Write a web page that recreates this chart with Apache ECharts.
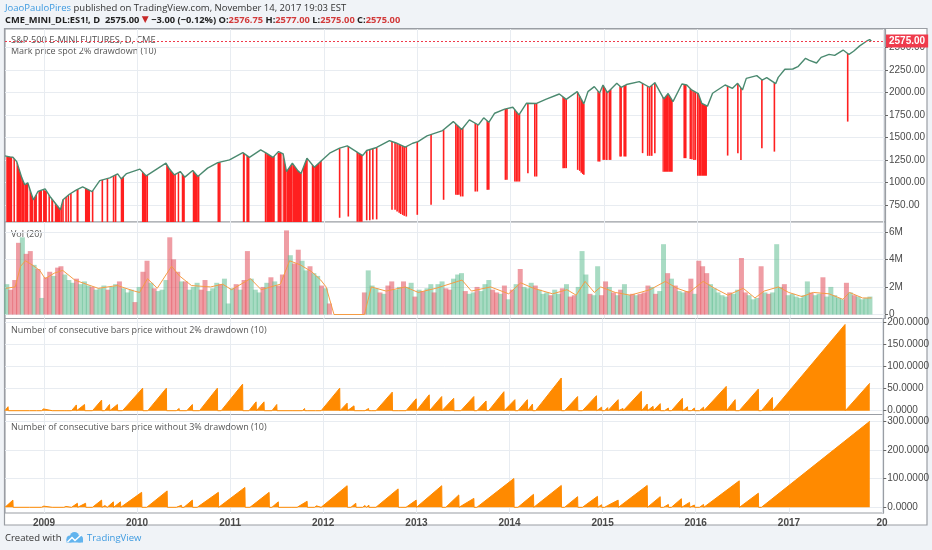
<!DOCTYPE html>
<html>
<head>
<meta charset="utf-8">
<script src="https://cdn.jsdelivr.net/npm/echarts@6/dist/echarts.min.js"></script>
<style>
html, body { margin: 0; padding: 0; background: #f0f3f7; }
#chart { width: 932px; height: 550px; }
</style>
</head>
<body>
<div id="chart"></div>
<script>
// ---- price pane: close line ----
var priceDates = ['2008-08-01','2008-08-20','2008-09-01','2008-09-16','2008-10-06','2008-10-17','2008-10-29','2008-11-20','2008-12-08',
    '2009-01-05','2009-01-24','2009-03-06','2009-03-16','2009-04-10','2009-05-08','2009-06-01','2009-07-08','2009-08-07','2009-09-15','2009-10-16','2009-10-30','2009-11-20',
    '2010-01-11','2010-02-05','2010-04-23','2010-05-07','2010-05-26','2010-06-18','2010-07-06','2010-08-06','2010-08-26','2010-10-03','2010-11-12','2010-12-28',
    '2011-02-18','2011-03-16','2011-04-29','2011-05-21','2011-06-16','2011-07-08','2011-07-26','2011-08-08','2011-08-31','2011-09-22','2011-10-04','2011-10-27','2011-11-25','2011-12-15',
    '2012-01-24','2012-03-03','2012-04-02','2012-05-15','2012-06-01','2012-06-17','2012-07-26','2012-09-14','2012-10-10','2012-11-15','2012-12-14',
    '2013-01-04','2013-02-08','2013-04-10','2013-05-22','2013-06-24','2013-07-24','2013-08-28','2013-09-18','2013-10-08','2013-10-31','2013-12-09',
    '2014-01-10','2014-02-03','2014-03-04','2014-04-13','2014-05-21','2014-07-11','2014-08-07','2014-09-19','2014-10-15','2014-10-31','2014-11-25','2014-12-16','2014-12-29',
    '2015-01-15','2015-02-21','2015-03-10','2015-03-31','2015-05-20','2015-06-29','2015-07-20','2015-08-24','2015-09-10','2015-09-29','2015-11-03','2015-11-22','2015-12-11',
    '2016-01-06','2016-01-20','2016-02-11','2016-03-02','2016-04-20','2016-05-19','2016-06-08','2016-06-27','2016-07-12','2016-08-22','2016-09-12','2016-09-30','2016-11-04','2016-11-14','2016-12-10',
    '2017-01-10','2017-01-30','2017-03-01','2017-03-16','2017-04-13','2017-05-01','2017-06-01','2017-06-23','2017-07-26','2017-08-18','2017-09-05','2017-09-29','2017-10-27','2017-11-07','2017-11-14'];
var priceValues = [1297,1285,1282,1233,1052,975,997,808,900,
    930,845,697,808,870,919,952,900,1022,1052,1097,1040,1100,
    1149,1074,1216,1150,1085,1122,1060,1133,1067,1160,1222,1252,
    1333,1280,1363,1327,1280,1344,1320,1122,1215,1130,1100,1271,1170,1222,
    1327,1382,1408,1330,1300,1356,1390,1467,1440,1393,1437,
    1456,1519,1578,1678,1590,1697,1640,1720,1670,1771,1816,
    1838,1752,1882,1880,1927,1985,1925,2011,1875,2011,2067,1995,2085,
    2000,2104,2060,2090,2122,2060,2111,1930,1990,1900,2096,2085,2030,
    1990,1880,1850,1993,2085,2048,2104,2030,2159,2189,2140,2167,2100,2170,2260,
    2263,2289,2382,2360,2330,2393,2426,2415,2474,2425,2460,2520,2575,2590,2575];
var priceTicks = [750, 1000, 1250, 1500, 1750, 2000, 2250, 2500];
var lastBar = { open: 2576.75, high: 2577.00, low: 2575.00, close: 2575.00, change: -3.00, pct: -0.12 };

// 2% drawdown marks, runs of bars: [from, to, top at from, top at to, low]
var drawdownRuns = [
    ['2008-08-06','2008-08-29',1292,1283,540], ['2008-09-03','2008-09-09',1275,1255,540],
    ['2008-09-15','2008-10-06',1236,1050,540], ['2008-10-06','2008-10-17',1050,975,540], ['2008-10-17','2008-10-31',975,990,540],
    ['2008-11-05','2008-11-20',937,808,540], ['2008-11-22','2008-12-04',816,880,540], ['2008-12-10','2008-12-24',900,915,540],
    ['2008-12-28','2009-01-12',922,899,540], ['2009-01-18','2009-01-24',865,845,540], ['2009-01-29','2009-02-06',826,796,540],
    ['2009-02-12','2009-03-06',775,697,540], ['2009-03-06','2009-03-12',697,764,540],
    ['2009-05-08','2009-05-16',919,925,540], ['2009-06-10','2009-06-30',939,911,540], ['2009-10-28','2009-11-10',1048,1071,540],
    ['2010-01-19','2010-02-05',1125,1074,540], ['2010-02-05','2010-02-12',1074,1087,540],
    ['2010-04-24','2010-05-07',1214,1150,540], ['2010-05-07','2010-05-26',1150,1085,540], ['2010-05-26','2010-06-01',1085,1094,540],
    ['2010-06-08','2010-06-14',1103,1115,540], ['2010-06-24','2010-07-06',1101,1060,540],
    ['2010-08-06','2010-08-26',1133,1067,540], ['2010-08-26','2010-09-01',1067,1082,540],
    ['2011-02-18','2011-02-26',1333,1317,540], ['2011-03-04','2011-03-16',1304,1280,540],
    ['2011-05-15','2011-05-21',1337,1327,540], ['2011-05-21','2011-06-16',1327,1280,540], ['2011-06-16','2011-06-23',1280,1300,540],
    ['2011-07-04','2011-07-20',1332,1328,540], ['2011-07-24','2011-07-26',1323,1320,540], ['2011-07-26','2011-08-08',1320,1122,540],
    ['2011-08-08','2011-08-31',1122,1215,540], ['2011-08-31','2011-09-22',1215,1130,540], ['2011-09-22','2011-10-04',1130,1100,540],
    ['2011-10-04','2011-10-07',1100,1122,540], ['2011-10-11','2011-10-27',1152,1271,540], ['2011-10-27','2011-10-30',1271,1261,540],
    ['2011-11-15','2011-11-25',1205,1170,540], ['2011-11-25','2011-12-15',1170,1222,540], ['2011-12-15','2011-12-24',1222,1246,540],
    ['2012-05-08','2012-05-15',1343,1330,565], ['2012-05-15','2012-06-01',1330,1300,565],
    ['2015-08-19','2015-08-24',1956,1930,1120], ['2015-08-24','2015-09-10',1930,1990,1120], ['2015-09-10','2015-09-28',1990,1905,1120],
    ['2016-01-01','2016-01-06',1998,1990,1075], ['2016-01-06','2016-01-20',1990,1880,1075], ['2016-01-20','2016-02-09',1880,1853,1075]
];
// 2% drawdown marks, single bars: [date, top, low]
var drawdownBars = [
    ['2009-03-16',808,540], ['2009-03-28',838,540], ['2009-04-06',860,540], ['2009-04-16',880,540], ['2009-07-10',908,540],
    ['2009-08-17',1030,540], ['2009-09-06',1045,540], ['2009-09-30',1074,540], ['2009-10-08',1085,540],
    ['2010-11-14',1223,540], ['2010-11-20',1227,540],
    ['2012-03-03',1382,608], ['2012-04-06',1400,622], ['2012-06-17',1356,580], ['2012-06-29',1366,580], ['2012-07-11',1377,590], ['2012-07-26',1390,590],
    ['2012-09-24',1457,697], ['2012-10-06',1444,697], ['2012-10-14',1435,678], ['2012-10-22',1424,665], ['2012-10-28',1417,650],
    ['2012-11-05',1406,640], ['2012-11-11',1398,630], ['2012-11-19',1399,622],
    ['2013-01-01',1453,641], ['2013-02-24',1534,752], ['2013-04-14',1588,808], ['2013-06-01',1651,863], ['2013-06-07',1635,863],
    ['2013-06-13',1619,863], ['2013-06-20',1601,845], ['2013-06-28',1604,845], ['2013-08-16',1660,900], ['2013-08-24',1647,900],
    ['2013-10-02',1685,919], ['2013-10-08',1670,919], ['2013-12-12',1818,1030], ['2013-12-18',1822,1030],
    ['2014-01-18',1809,1011], ['2014-01-24',1788,1011], ['2014-01-30',1766,1011], ['2014-02-05',1761,1011], ['2014-03-10',1882,1104],
    ['2014-04-06',1880,1067], ['2014-04-13',1880,1067], ['2014-07-26',1952,1160], ['2014-08-01',1938,1160], ['2014-08-07',1925,1160],
    ['2014-09-21',2001,1141], ['2014-09-29',1959,1130], ['2014-10-05',1927,1110], ['2014-10-11',1896,1095], ['2014-10-15',1875,1086],
    ['2014-12-10',2016,1233], ['2014-12-16',1995,1233], ['2014-12-30',2080,1252],
    ['2015-01-05',2050,1252], ['2015-01-13',2010,1252], ['2015-01-23',2022,1252], ['2015-01-28',2037,1252],
    ['2015-03-06',2070,1289], ['2015-03-10',2060,1289], ['2015-03-22',2077,1289], ['2015-03-28',2086,1289],
    ['2015-06-02',2102,1327], ['2015-06-22',2071,1297], ['2015-06-30',2062,1297], ['2015-07-08',2082,1297], ['2015-07-20',2111,1327],
    ['2015-11-12',2091,1271], ['2015-11-18',2087,1271], ['2015-12-06',2044,1262], ['2015-12-12',2028,1260], ['2015-12-20',2016,1252], ['2015-12-26',2007,1252],
    ['2016-04-30',2072,1300], ['2016-06-09',2100,1327], ['2016-06-21',2053,1252], ['2016-09-11',2142,1382], ['2016-10-30',2111,1344],
    ['2017-08-13',2437,1678]
];

// ---- volume pane: two bars per month from Aug 2008 (in millions), g = up bar, r = down bar ----
var volValues = [
    2.2,1.8, 2.5,5.2, 5.6,4.4, 4.6,3.6, 3.3,1.2,
    2.7,3.1, 2.8,3.4, 3.5,2.9, 2.5,2.3, 2.6,2.2, 2.4,2.1, 2.0,1.8, 1.9,2.1, 1.8,2.0, 2.2,2.4, 1.9,1.6, 1.8,0.9,
    2.0,3.1, 3.9,2.3, 1.9,1.7, 1.8,2.5, 5.6,4.0, 3.1,2.4, 2.4,1.8, 2.0,2.3, 1.8,2.5, 1.7,1.9, 2.3,2.2, 2.6,0.8,
    1.9,2.2, 1.8,2.5, 4.6,2.6, 1.8,1.6, 2.0,2.3, 2.7,2.4, 2.1,2.9, 6.1,4.3, 3.7,4.7, 3.9,3.2, 3.5,3.0, 2.8,2.1,
    1.9,0.8, 0,0, 0,0, 0,0, 0,0, 1.6,3.2, 2.1,1.9, 1.6,1.5, 2.1,2.4, 1.8,2.0, 2.4,2.0, 2.3,1.3,
    1.8,1.7, 1.9,2.2, 1.6,2.2, 2.4,1.9, 1.8,2.6, 2.9,3.0, 1.7,1.5, 1.6,2.0, 1.7,2.2, 2.5,1.8, 1.6,1.5, 2.1,1.1,
    1.8,2.2, 3.3,2.0, 1.9,2.3, 2.1,1.8, 1.5,1.6, 1.4,1.8, 1.5,1.9, 2.2,1.3, 1.4,2.0, 4.6,2.9, 1.5,1.4, 3.5,1.4,
    2.4,2.0, 1.6,1.4, 1.8,2.2, 1.4,1.5, 1.4,1.5, 1.6,2.1, 2.0,1.5, 1.7,5.1, 3.0,2.6, 2.1,1.7, 1.6,1.7, 2.6,1.5,
    3.9,3.5, 3.0,2.2, 1.9,1.6, 1.4,1.3, 1.6,1.5, 1.8,4.1, 1.6,1.4, 1.1,1.2, 3.5,1.6, 1.5,1.6, 5.1,2.0, 2.2,1.4,
    1.5,1.3, 1.2,1.4, 2.4,1.6, 1.4,1.5, 2.7,1.3, 2.0,1.4, 1.2,1.1, 2.3,1.6, 1.4,1.3, 1.1,1.2, 1.3
];
var volSide = 'grrrgrrgrg' +
    'rrgrrgggrgggrgggrggrgggr' + 'grrgrgggrrrgrgggrrgggrgg' + 'grgrrgggrgrgrrrgrrggrggr' +
    'grggggggggrgggrgrrggrggr' + 'grggrggrrgggrggrgggrrgrg' + 'rgrgggrgggrggrgrrgggrggr' +
    'rgrgrggrgrrrgrggrgrggrrg' + 'rrrgggggrggrrgggrgrgggrg' + 'gggggrggrgggggrgrgggg';
var volMaDates = ['2008-08-05','2008-09-10','2008-10-01','2008-10-20','2008-11-15','2008-12-15','2009-01-05','2009-02-10','2009-03-15','2009-05-01','2009-06-15',
    '2009-08-01','2009-10-15','2009-12-20','2010-01-10','2010-02-10','2010-03-20','2010-05-15','2010-06-15','2010-08-01','2010-10-15','2010-12-01',
    '2011-01-05','2011-03-20','2011-05-01','2011-07-15','2011-08-20','2011-10-01','2011-11-15','2011-12-20','2012-01-10','2012-02-10','2012-06-08',
    '2012-07-05','2012-09-01','2012-11-15','2013-01-05','2013-03-15','2013-06-25','2013-08-01','2013-10-15','2013-12-25','2014-02-10','2014-04-01',
    '2014-06-15','2014-08-10','2014-09-15','2014-10-20','2014-11-25','2014-12-20','2015-02-15','2015-04-15','2015-07-01','2015-08-30','2015-10-15',
    '2015-12-01','2016-01-25','2016-03-10','2016-05-01','2016-06-30','2016-08-15','2016-09-20','2016-11-15','2016-12-25','2017-02-15','2017-04-01',
    '2017-06-01','2017-07-25','2017-08-20','2017-10-10','2017-11-14'];
var volMaValues = [1.9,2.0,3.5,3.9,3.6,3.2,2.6,3.0,3.2,2.5,2.2,
    1.9,2.1,1.7,1.6,2.6,1.9,3.5,2.8,2.1,2.0,2.2,
    1.8,2.6,1.8,2.2,3.9,3.6,3.1,2.5,2.0,0,0,
    2.0,1.7,2.0,1.6,1.9,2.5,1.7,2.0,1.5,2.3,1.9,
    1.5,1.8,1.4,2.4,1.6,2.0,1.6,1.4,1.8,2.4,1.9,
    1.6,2.4,1.9,1.4,1.9,1.2,1.7,2.0,1.6,1.3,1.6,
    1.5,1.1,1.6,1.2,1.2];
var volTicks = [0, 2, 4, 6];

// ---- consecutive bars without drawdown: [run start, run end, count at end] ----
var runs2 = [
    ['2008-08-01','2008-08-13',9], ['2008-11-06','2008-11-12',3], ['2008-12-02','2008-12-08',4], ['2008-12-22','2008-12-30',4],
    ['2009-02-02','2009-02-06',3], ['2009-03-24','2009-03-31',4], ['2009-04-19','2009-05-08',13], ['2009-05-12','2009-06-09',14],
    ['2009-07-10','2009-08-15',24], ['2009-08-27','2009-09-15',14], ['2009-09-23','2009-10-16',14], ['2009-11-05','2010-01-23',51],
    ['2010-02-12','2010-04-26',51], ['2010-06-04','2010-06-15',5], ['2010-07-15','2010-08-06',14], ['2010-09-03','2010-11-12',51],
    ['2010-11-27','2011-02-19',60], ['2011-03-16','2011-04-13',20], ['2011-04-17','2011-05-14',20], ['2011-06-14','2011-07-03',14],
    ['2011-08-24','2011-08-31',4], ['2011-10-12','2011-10-20',5], ['2011-11-02','2011-11-08',3], ['2011-12-01','2011-12-06',3],
    ['2011-12-24','2012-03-06',51], ['2012-03-10','2012-04-04',17], ['2012-04-12','2012-05-01',11], ['2012-06-05','2012-06-12',4],
    ['2012-06-20','2012-06-27',5], ['2012-07-10','2012-07-16',3], ['2012-07-26','2012-09-28',42], ['2012-10-24','2012-10-30',3],
    ['2012-11-21','2012-12-31',27], ['2013-01-04','2013-02-20',36], ['2013-02-28','2013-04-10',32], ['2013-04-18','2013-05-27',28],
    ['2013-06-24','2013-08-14',32], ['2013-08-26','2013-10-01',22], ['2013-10-11','2013-12-10',43], ['2013-12-18','2014-01-22',25],
    ['2014-02-03','2014-03-12',25], ['2014-03-14','2014-04-01',15], ['2014-04-13','2014-07-23',74], ['2014-08-05','2014-09-25',32],
    ['2014-10-14','2014-12-08',34], ['2014-12-12','2014-12-28',8], ['2015-01-09','2015-01-21',7], ['2015-01-26','2015-03-03',25],
    ['2015-03-07','2015-03-22',5], ['2015-03-26','2015-06-02',44], ['2015-06-06','2015-06-25',15], ['2015-07-03','2015-07-18',10],
    ['2015-07-26','2015-08-15',16], ['2015-09-01','2015-09-16',6], ['2015-09-28','2015-11-10',28], ['2015-11-14','2015-11-30',9],
    ['2015-12-15','2015-12-27',6], ['2016-01-16','2016-02-01',8], ['2016-02-09','2016-04-30',55], ['2016-05-04','2016-06-04',25],
    ['2016-06-20','2016-09-03',49], ['2016-09-15','2016-10-28',30], ['2016-11-05','2017-08-09',195], ['2017-08-17','2017-11-14',62]
];
var runs3 = [
    ['2008-08-01','2008-09-01',25], ['2008-11-06','2008-11-12',3], ['2008-12-22','2008-12-31',4], ['2009-02-02','2009-02-08',4],
    ['2009-03-20','2009-03-28',3], ['2009-04-19','2009-05-12',14], ['2009-05-20','2009-06-13',14], ['2009-07-10','2009-08-15',25],
    ['2009-08-20','2009-08-28',6], ['2009-09-06','2009-09-30',19], ['2009-10-04','2009-10-28',19], ['2009-11-05','2010-01-19',52],
    ['2010-02-08','2010-04-29',57], ['2010-06-04','2010-06-24',7], ['2010-07-04','2010-08-06',25], ['2010-08-25','2010-11-16',52],
    ['2010-11-24','2011-02-28',69], ['2011-03-20','2011-06-03',52], ['2011-06-14','2011-07-09',19], ['2011-08-20','2011-08-27',4],
    ['2011-09-21','2011-10-30',21], ['2011-11-28','2011-12-06',5], ['2011-12-24','2012-04-04',75], ['2012-04-19','2012-05-08',14],
    ['2012-06-04','2012-06-12',6], ['2012-06-20','2012-06-28',8], ['2012-07-26','2012-10-21',64], ['2012-11-01','2012-11-07',4],
    ['2012-11-21','2012-12-31',25], ['2013-01-04','2013-04-10',75], ['2013-04-26','2013-06-16',43], ['2013-06-24','2013-08-14',31],
    ['2013-08-26','2014-01-18',100], ['2014-02-03','2014-04-05',45], ['2014-04-13','2014-07-23',76], ['2014-08-05','2014-09-25',37],
    ['2014-10-14','2014-12-12',38], ['2014-12-16','2014-12-28',9], ['2015-01-09','2015-01-21',6], ['2015-01-26','2015-03-03',25],
    ['2015-03-07','2015-06-25',76], ['2015-06-29','2015-08-15',37], ['2015-08-28','2015-09-16',10], ['2015-09-28','2015-11-06',30],
    ['2015-11-10','2015-12-08',17], ['2015-12-15','2015-12-27',8], ['2016-01-16','2016-02-01',10], ['2016-02-09','2016-06-20',92],
    ['2016-06-28','2016-09-03',49], ['2016-09-15','2017-11-14',299]
];
var runs2Ticks = [0, 50, 100, 150, 200];
var runs3Ticks = [0, 100, 200, 300];
var yearTicks = ['2009','2010','2011','2012','2013','2014','2015','2016','2017','2018'];

var RED = '#ff1f1f';
var ORANGE = '#ff8a00';
var GRID_LINE = '#e8ecf1';
var AXIS_GRAY = '#9a9ea4';
var VOL_UP = 'rgba(96, 190, 145, 0.55)';
var VOL_DOWN = 'rgba(228, 92, 104, 0.6)';
var LAST_RED = '#ef3b4c';

function ts(s) {
    var p = s.split('-');
    return new Date(+p[0], +p[1] - 1, +(p[2] || 1)).getTime();
}

// sawtooth points from runs
function runPoints(list) {
    var pts = [];
    list.forEach(function (r, i) {
        pts.push([ts(r[0]), 0]);
        pts.push([ts(r[1]), r[2]]);
        if (i < list.length - 1) pts.push([ts(r[1]) + 86400000, 0]);
    });
    return pts;
}

var volData = volValues.map(function (v, i) {
    var m = 7 + Math.floor(i / 2);
    var d = new Date(2008 + Math.floor(m / 12), m % 12, i % 2 ? 23 : 8).getTime();
    var up = volSide.charAt(i) !== 'r';
    return { value: [d, v], itemStyle: { color: up ? VOL_UP : VOL_DOWN } };
});

var yearValues = yearTicks.map(function (y) { return ts(y + '-01-01'); });
var xMin = ts('2008-08-01'), xMax = ts('2018-01-06');
var lastPrice = priceValues[priceValues.length - 1];

var panes = [
    { top: 29, height: 193, min: 561, max: 2708, ticks: priceTicks, fmt: function (v) { return v.toFixed(2); } },
    { top: 222, height: 96.5, min: -0.29, max: 6.71, ticks: volTicks, fmt: function (v) { return v === 0 ? '0' : v + 'M'; } },
    { top: 318.5, height: 96, min: -8.6, max: 208.6, ticks: runs2Ticks, fmt: function (v) { return v.toFixed(4); } },
    { top: 414.5, height: 98.5, min: -19.8, max: 322.6, ticks: runs3Ticks, fmt: function (v) { return v.toFixed(4); } }
];

var labelFont = { fontFamily: 'Liberation Sans', fontSize: 10, color: '#4a4a4a' };
var titleStyle = { fill: '#555', fontFamily: 'Open Sans', fontSize: 9, verticalAlign: 'middle' };

function paneTitle(text, x, y, size) {
    return { type: 'text', x: x, y: y, silent: true, style: Object.assign({}, titleStyle, { text: text, fontSize: size || 9 }) };
}

var option = {
    animation: false,
    backgroundColor: '#f0f3f7',
    grid: panes.map(function (p) {
        return { left: 5, right: 47, top: p.top, height: p.height, show: true, backgroundColor: '#fff',
            borderColor: AXIS_GRAY, borderWidth: 1.2 };
    }),
    // time runs on a plain value axis (timestamps) so the year lines can be placed exactly
    xAxis: panes.map(function (p, i) {
        return {
            type: 'value', gridIndex: i, min: xMin, max: xMax, scale: true,
            axisLine: { show: false },
            axisTick: { show: false, customValues: yearValues },
            splitLine: { show: true, lineStyle: { color: GRID_LINE, width: 1 } },
            axisLabel: {
                show: i === 3, customValues: yearValues, margin: 5,
                fontFamily: 'Liberation Sans', fontSize: 10, fontWeight: 'bold', color: '#4a4a4a',
                formatter: function (v) {
                    var y = new Date(v).getFullYear();
                    return y === 2018 ? '20' : String(y);
                }
            }
        };
    }),
    yAxis: panes.map(function (p, i) {
        return {
            type: 'value', gridIndex: i, position: 'right', min: p.min, max: p.max,
            axisLine: { show: true, lineStyle: { color: AXIS_GRAY, width: 1.2 } },
            axisTick: { show: true, length: 3, customValues: p.ticks, lineStyle: { color: '#666' } },
            splitLine: { show: true, lineStyle: { color: GRID_LINE, width: 1 } },
            axisLabel: Object.assign({ customValues: p.ticks, margin: 4, formatter: p.fmt }, labelFont)
        };
    }),
    graphic: [
        { type: 'rect', z: -10, silent: true, shape: { x: 4.5, y: 28.5, width: 922.5, height: 496.5 },
          style: { fill: '#fff', stroke: AXIS_GRAY, lineWidth: 1.2 } },
        { type: 'text', x: 5, y: 8, silent: true, style: {
            text: '{u|JoaoPauloPires} published on TradingView.com, November 14, 2017 19:03 EST',
            fill: '#333', fontFamily: 'Open Sans', fontSize: 9.5, verticalAlign: 'middle',
            rich: { u: { fill: '#3d9ae0', fontFamily: 'Open Sans', fontSize: 9.5 } } } },
        { type: 'text', x: 5, y: 20, silent: true, style: {
            text: '{b|CME_MINI_DL:ES1!, D  ' + lastBar.close.toFixed(2) + ' }{t|▼}{b| −' + Math.abs(lastBar.change).toFixed(2) +
                ' (−' + Math.abs(lastBar.pct).toFixed(2) + '%) O:}{v|' + lastBar.open.toFixed(2) + '}{b| H:}{v|' + lastBar.high.toFixed(2) +
                '}{b| L:}{v|' + lastBar.low.toFixed(2) + '}{b| C:}{v|' + lastBar.close.toFixed(2) + '}',
            verticalAlign: 'middle',
            rich: {
                b: { fill: '#222', fontFamily: 'Open Sans', fontSize: 9.3, fontWeight: 'bold' },
                t: { fill: '#c62828', fontFamily: 'DejaVu Sans', fontSize: 9 },
                v: { fill: '#d23a3a', fontFamily: 'Open Sans', fontSize: 9.3, fontWeight: 'bold' }
            } } },
        paneTitle('S&P 500 E-MINI FUTURES, D, CME', 11, 40, 9.3),
        paneTitle('Mark price spot 2% drawdown (10)', 11, 51),
        paneTitle('Vol (20)', 11, 234),
        paneTitle('Number of consecutive bars price without 2% drawdown (10)', 11, 330),
        paneTitle('Number of consecutive bars price without 3% drawdown (10)', 11, 427),
        { type: 'text', x: 5, y: 538, silent: true, style: { text: 'Created with', fill: '#333', fontFamily: 'Open Sans', fontSize: 9.5, verticalAlign: 'middle' } },
        { type: 'group', x: 65, y: 531, silent: true, children: [
            { type: 'circle', shape: { cx: 5, cy: 8, r: 3.5 }, style: { fill: '#62b4ee' } },
            { type: 'circle', shape: { cx: 9.5, cy: 5.5, r: 4.5 }, style: { fill: '#62b4ee' } },
            { type: 'circle', shape: { cx: 14.5, cy: 8, r: 3.5 }, style: { fill: '#62b4ee' } },
            { type: 'rect', shape: { x: 1.5, y: 8, width: 16.5, height: 3.5 }, style: { fill: '#62b4ee' } },
            { type: 'polyline', shape: { points: [[2.5, 11], [7, 6.5], [10, 9.5], [16, 4]] }, style: { stroke: '#fff', lineWidth: 1.5, fill: null } }
        ] },
        { type: 'text', x: 87, y: 538, silent: true, style: { text: 'TradingView', fill: '#3d9ae0', fontFamily: 'Open Sans', fontSize: 9.5, verticalAlign: 'middle' } }
    ],
    series: [
        {
            type: 'custom', name: 'drawdown runs', xAxisIndex: 0, yAxisIndex: 0, z: 2, clip: true, silent: true,
            encode: { x: [0, 1], y: [2, 3, 4] },
            data: drawdownRuns.map(function (r) { return [ts(r[0]), ts(r[1]), r[2], r[3], r[4]]; }),
            renderItem: function (params, api) {
                var a = api.coord([api.value(0), api.value(2)]);
                var b = api.coord([api.value(1), api.value(3)]);
                var c = api.coord([api.value(1), api.value(4)]);
                var d = api.coord([api.value(0), api.value(4)]);
                return { type: 'polygon', shape: { points: [a, b, c, d] }, style: { fill: RED } };
            }
        },
        {
            type: 'custom', name: 'drawdown bars', xAxisIndex: 0, yAxisIndex: 0, z: 2, clip: true, silent: true,
            encode: { x: 0, y: [1, 2] },
            data: drawdownBars.map(function (r) { return [ts(r[0]), r[1], r[2]]; }),
            renderItem: function (params, api) {
                var t = api.coord([api.value(0), api.value(1)]);
                var b = api.coord([api.value(0), api.value(2)]);
                return { type: 'rect', shape: { x: t[0] - 0.8, y: t[1], width: 1.6, height: b[1] - t[1] }, style: { fill: RED } };
            }
        },
        {
            type: 'line', name: 'ES1!', xAxisIndex: 0, yAxisIndex: 0, z: 3, showSymbol: false, silent: true,
            data: priceDates.map(function (d, i) { return [ts(d), priceValues[i]]; }),
            lineStyle: { color: '#4b8a70', width: 1.4 }
        },
        {
            // last-price dotted line with its axis tag
            type: 'line', name: 'last', xAxisIndex: 0, yAxisIndex: 0, z: 4, silent: true,
            data: [], lineStyle: { opacity: 0 },
            markLine: {
                symbol: 'none', silent: true,
                itemStyle: { color: LAST_RED },
                data: [{ yAxis: lastPrice, lineStyle: { color: LAST_RED, type: [2, 2], width: 1.2 } }],
                lineStyle: { color: LAST_RED, type: [2, 2], width: 1.2 },
                label: { position: 'end', distance: 1, formatter: function (p) { return p.value.toFixed(2); },
                    color: '#fff', backgroundColor: LAST_RED, padding: [2, 3, 1, 3], fontFamily: 'Liberation Sans', fontSize: 10, fontWeight: 'bold' }
            }
        },
        {
            type: 'bar', name: 'Vol', xAxisIndex: 1, yAxisIndex: 1, barWidth: 5, barGap: '-100%', silent: true,
            data: volData
        },
        {
            type: 'line', name: 'Vol MA', xAxisIndex: 1, yAxisIndex: 1, showSymbol: false, silent: true,
            data: volMaDates.map(function (d, i) { return [ts(d), volMaValues[i]]; }),
            lineStyle: { color: '#f59c45', width: 1 }
        },
        {
            type: 'line', name: 'runs 2%', xAxisIndex: 2, yAxisIndex: 2, showSymbol: false, silent: true,
            data: runPoints(runs2),
            lineStyle: { color: ORANGE, width: 1 }, areaStyle: { color: ORANGE, opacity: 1 }
        },
        {
            type: 'line', name: 'runs 3%', xAxisIndex: 3, yAxisIndex: 3, showSymbol: false, silent: true,
            data: runPoints(runs3),
            lineStyle: { color: ORANGE, width: 1 }, areaStyle: { color: ORANGE, opacity: 1 }
        }
    ]
};

var chart = echarts.init(document.getElementById('chart'));
chart.setOption(option);
</script>
</body>
</html>
